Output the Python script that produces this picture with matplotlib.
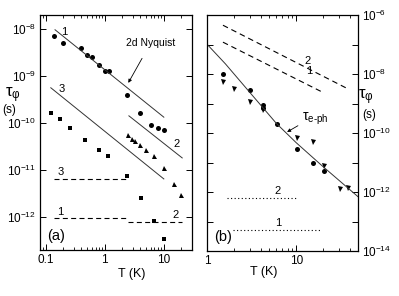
import numpy as np
import matplotlib
matplotlib.use("Agg")
import matplotlib.pyplot as plt
from matplotlib.ticker import LogLocator, NullFormatter, NullLocator

plt.rcParams['font.family'] = ['Liberation Sans', 'DejaVu Sans']
plt.rcParams['mathtext.fontset'] = 'custom'
plt.rcParams['mathtext.rm'] = 'Liberation Sans'
plt.rcParams['mathtext.it'] = 'Liberation Sans:italic'
plt.rcParams['mathtext.default'] = 'regular'

# ---- panel (a) data ----
a_circ_T = [0.14, 0.2, 0.4, 0.5, 0.6, 0.8, 1.0, 1.2, 2.4, 4.0, 6.1, 8.0, 10]
a_circ_tau = [7.1e-9, 5.1e-9, 4.0e-9, 2.8e-9, 2.5e-9, 1.7e-9, 1.26e-9, 1.26e-9,
              4.0e-10, 1.67e-10, 9.1e-11, 7.8e-11, 7.1e-11]
a_sq_T = [0.125, 0.175, 0.255, 0.46, 0.81, 1.12, 2.4, 4.2, 7.0, 10]
a_sq_tau = [1.67e-10, 1.22e-10, 7.9e-11, 4.4e-11, 2.7e-11, 2.0e-11, 7.6e-12,
            2.5e-12, 8.1e-13, 3.4e-13]
a_tri_T = [2.5, 2.9, 3.3, 4.0, 5.0, 7.0, 10, 15, 20]
a_tri_tau = [5.7e-11, 4.7e-11, 4.2e-11, 3.4e-11, 2.7e-11, 2.0e-11, 1.1e-11,
             5.1e-12, 3.0e-12]

# solid lines (2d Nyquist), endpoints
nyq1_T, nyq1_tau = [0.144, 10.1], [9.7e-9, 1.34e-10]
nyq2_T, nyq2_tau = [2.58, 20.7], [1.43e-10, 1.82e-11]
nyq3_T, nyq3_tau = [0.122, 10.1], [5.66e-10, 6.5e-12]
# dashed levels
dsh1_T, dsh1_tau = [0.138, 2.4], [9.8e-13, 9.8e-13]
dsh2_T, dsh2_tau = [2.5, 20.7], [7.7e-13, 7.7e-13]
dsh3_T, dsh3_tau = [0.138, 2.42], [6.5e-12, 6.5e-12]

# ---- panel (b) data ----
b_circ_T = [1.49, 3.04, 4.24, 4.24, 6.14, 10.3, 15.4, 20.5]
b_circ_tau = [1.03e-8, 2.96e-9, 8.7e-10, 6.9e-10, 1.97e-10, 2.96e-11, 1.0e-11, 5.0e-12]
b_tri_T = [1.49, 2.0, 3.04, 4.24, 10.3, 15.4, 20.5, 31.1, 38.3]
b_tri_tau = [5.4e-9, 3.0e-9, 1.12e-9, 5.9e-10, 6.8e-11, 4.95e-11, 7.6e-12, 1.3e-12, 1.4e-12]

eph_T = [1, 1.6, 3, 6, 10, 20, 50]
eph_tau = [1e-7, 2.2e-8, 2.4e-9, 2.1e-10, 4.7e-11, 7.3e-12, 6.8e-13]

bd1_T, bd1_tau = [1.5, 19.6], [1.2e-7, 2.45e-9]
bd2_T, bd2_tau = [1.5, 36.6], [4.5e-7, 3.35e-9]
dot1_T, dot1_tau = [1.96, 18.8], [5e-14, 5e-14]
dot2_T, dot2_tau = [1.65, 9.9], [6.3e-13, 6.3e-13]

fig = plt.figure(figsize=(3.99, 2.96), dpi=100)
axa = fig.add_axes([40/399, 46/296, 151.7/399, 235/296])
axb = fig.add_axes([207.3/399, 45/296, 151/399, 236/296])

lc = '#333333'
ms = 3.6

# ---- (a) ----
axa.set_xscale('log')
axa.set_yscale('log')
axa.plot(a_circ_T, a_circ_tau, 'o', color='k', ms=ms, mew=0)
axa.plot(a_sq_T, a_sq_tau, 's', color='k', ms=3.4, mew=0)
axa.plot(a_tri_T, a_tri_tau, '^', color='k', ms=3.6, mew=0)
for T, tau in [(nyq1_T, nyq1_tau), (nyq2_T, nyq2_tau), (nyq3_T, nyq3_tau)]:
    axa.plot(T, tau, '-', color=lc, lw=0.7)
for T, tau in [(dsh1_T, dsh1_tau), (dsh2_T, dsh2_tau), (dsh3_T, dsh3_tau)]:
    axa.plot(T, tau, '--', color='k', lw=0.8, dashes=(4.5, 3))
axa.set_xlim(0.08, 30)
axa.set_ylim(2e-13, 2e-8)

fs = 8
axa.text(0.206, 8.6e-9, '1', fontsize=fs, ha='center', va='center')
axa.text(0.19, 5.3e-10, '3', fontsize=fs, ha='center', va='center')
axa.text(16.7, 3.6e-11, '2', fontsize=fs, ha='center', va='center')
axa.text(0.183, 9.3e-12, '3', fontsize=fs, ha='center', va='center')
axa.text(0.177, 1.29e-12, '1', fontsize=fs, ha='center', va='center')
axa.text(16.0, 1.1e-12, '2', fontsize=fs, ha='center', va='center')
axa.annotate('2d Nyquist', xy=(2.52, 7.2e-10), xytext=(6.0, 5.0e-9),
             fontsize=7.5, ha='center', va='center',
             arrowprops=dict(arrowstyle='-|>', color='k', lw=0.6,
                             mutation_scale=5, shrinkA=6, shrinkB=0))
axa.text(0.103, 0.061, '(a)', transform=axa.transAxes, fontsize=10.5,
         ha='center', va='center')

axa.xaxis.set_major_locator(LogLocator(base=10, numticks=10))
axa.xaxis.set_minor_locator(LogLocator(base=10, subs=np.arange(2, 10), numticks=20))
axa.xaxis.set_minor_formatter(NullFormatter())
axa.set_xticks([0.1, 1, 10])
axa.set_xticklabels(['0.1', '1', '10'])
axa.set_yticks([1e-12, 1e-11, 1e-10, 1e-9, 1e-8])
axa.set_yticklabels([r'10$^{-12}$', r'10$^{-11}$', r'10$^{-10}$', r'10$^{-9}$', r'10$^{-8}$'])
axa.yaxis.set_minor_locator(NullLocator())
axa.tick_params(which='both', direction='in', top=True, right=True, labelsize=8.5, pad=3)
axa.tick_params(which='major', length=4, width=0.7)
axa.tick_params(which='minor', length=2, width=0.6)
axa.text(0.605, -0.10, 'T (K)', transform=axa.transAxes, fontsize=9,
         ha='center', va='center')
fig.text(13/399, 1 - 95/296, r'$\tau_\varphi$', fontsize=12, ha='center', va='center')
fig.text(9/399, 1 - 110/296, '(s)', fontsize=8.5, ha='center', va='center')

# ---- (b) ----
axb.set_xscale('log')
axb.set_yscale('log')
axb.plot(b_circ_T, b_circ_tau, 'o', color='k', ms=ms, mew=0)
axb.plot(b_tri_T, b_tri_tau, 'v', color='k', ms=3.6, mew=0)
axb.plot(eph_T, eph_tau, '-', color=lc, lw=0.7)
for T, tau in [(bd1_T, bd1_tau), (bd2_T, bd2_tau)]:
    axb.plot(T, tau, '--', color='k', lw=0.8, dashes=(5, 3.5))
for T, tau in [(dot1_T, dot1_tau), (dot2_T, dot2_tau)]:
    axb.plot(T, tau, ':', color='k', lw=0.8, dashes=(1, 2.2))
axb.set_xlim(1, 50)
axb.set_ylim(1e-14, 1e-6)

axb.text(13.3, 2.7e-8, '2', fontsize=fs, ha='center', va='center')
axb.text(13.9, 1.24e-8, '1', fontsize=fs, ha='center', va='center')
axb.text(6.2, 1.08e-12, '2', fontsize=fs, ha='center', va='center')
axb.text(6.35, 8.9e-14, '1', fontsize=fs, ha='center', va='center')
axb.annotate(r'$\tau_{e\text{-}ph}$', xy=(7.9, 1.08e-10), xytext=(11.6, 3.1e-10),
             fontsize=10, ha='left', va='center',
             arrowprops=dict(arrowstyle='-|>', color='k', lw=0.6,
                             mutation_scale=5, shrinkA=1, shrinkB=0,
                             relpos=(0.0, 0.2)))
axb.text(0.106, 0.058, '(b)', transform=axb.transAxes, fontsize=10.5,
         ha='center', va='center')

axb.set_xticks([1, 10])
axb.set_xticklabels(['1', '10'])
axb.xaxis.set_minor_locator(LogLocator(base=10, subs=np.arange(2, 10), numticks=20))
axb.xaxis.set_minor_formatter(NullFormatter())
ydec = [1e-14, 1e-13, 1e-12, 1e-11, 1e-10, 1e-9, 1e-8, 1e-7, 1e-6]
ylab = [r'10$^{-14}$', '', r'10$^{-12}$', '', r'10$^{-10}$', '', r'10$^{-8}$', '', r'10$^{-6}$']
axb.set_yticks(ydec)
axb.set_yticklabels(ylab)
axb.yaxis.set_minor_locator(NullLocator())
axb.yaxis.tick_right()
axb.tick_params(which='both', direction='in', top=True, left=True, right=True,
                labelleft=False, labelright=True, labelsize=8.5, pad=3)
axb.tick_params(which='major', length=4, width=0.7)
axb.tick_params(which='minor', length=2, width=0.6)
axb.text(0.371, -0.09, 'T (K)', transform=axb.transAxes, fontsize=9,
         ha='center', va='center')
fig.text(366/399, 1 - 97/296, r'$\tau_\varphi$', fontsize=12, ha='center', va='center')
fig.text(369/399, 1 - 115/296, '(s)', fontsize=8.5, ha='center', va='center')

for ax in (axa, axb):
    for s in ax.spines.values():
        s.set_linewidth(0.9)

fig.savefig('out.png', dpi=100)
